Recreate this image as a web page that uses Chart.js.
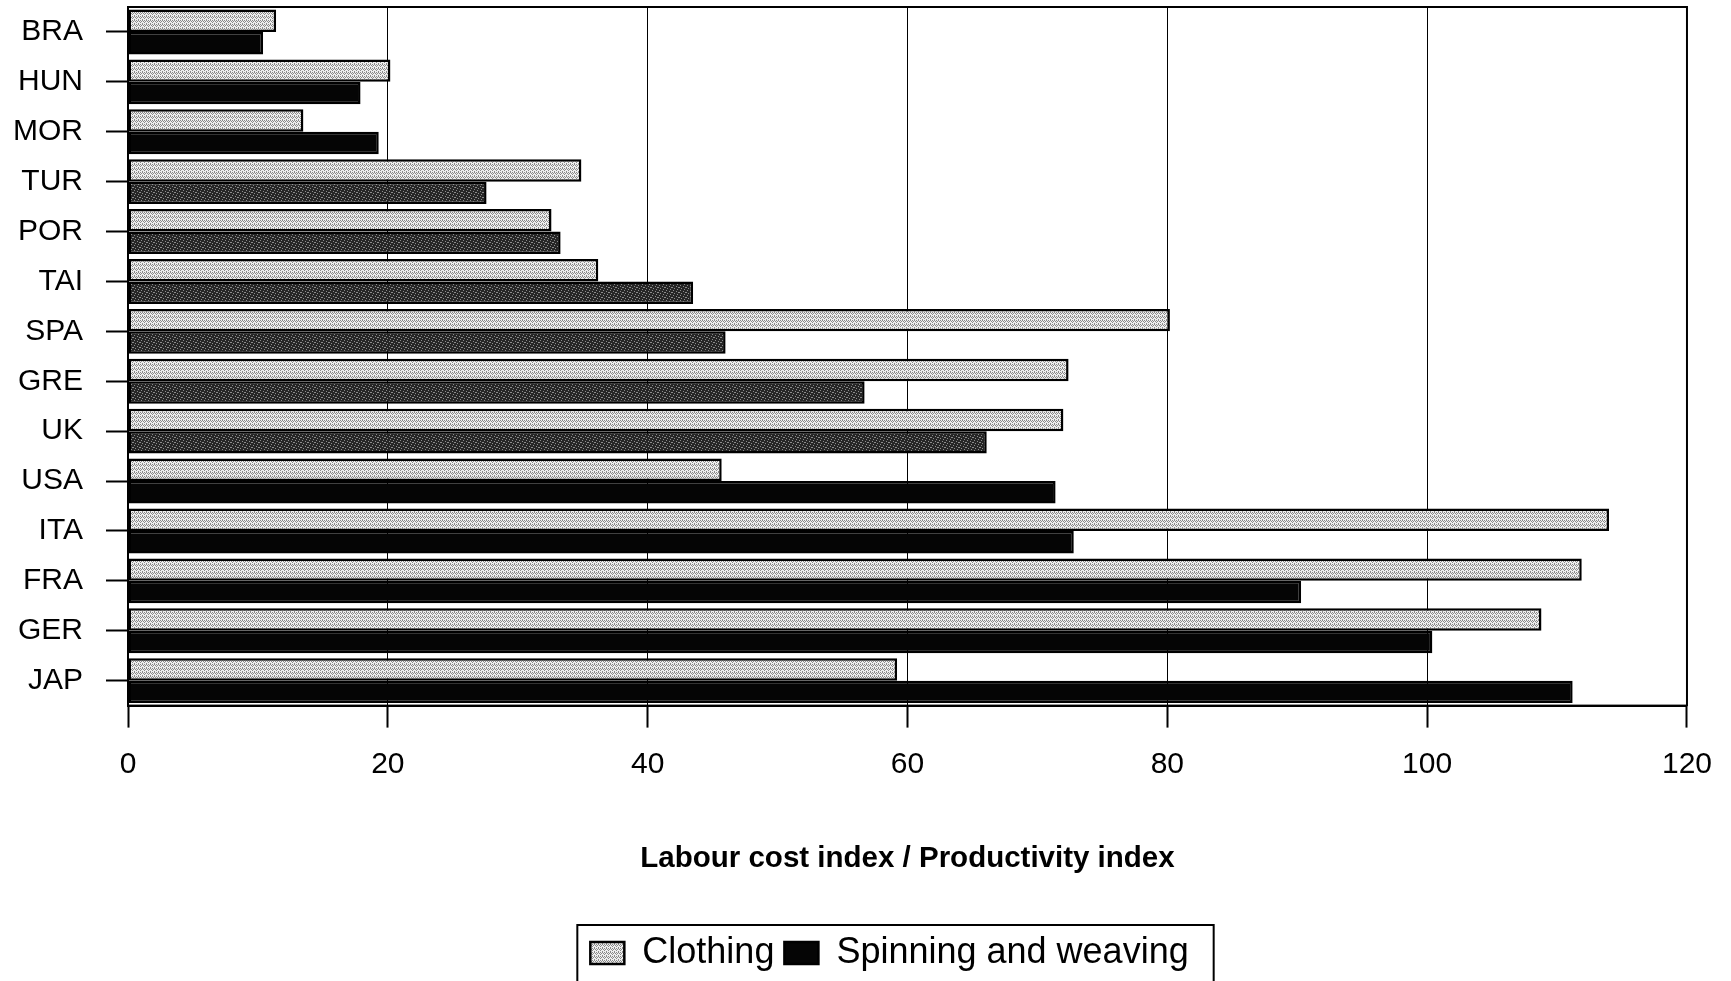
<!DOCTYPE html>
<html>
<head>
<meta charset="utf-8">
<script src="https://cdn.jsdelivr.net/npm/chart.js@4.4.1/dist/chart.umd.min.js"></script>
<style>
    body { margin: 0; background: #fff; }
    canvas { display: block; }
</style>
</head>
<body>
<canvas id="chart" width="1731" height="981"></canvas>
<script>
// Country codes, top to bottom
const countries = ['BRA', 'HUN', 'MOR', 'TUR', 'POR', 'TAI', 'SPA', 'GRE', 'UK', 'USA', 'ITA', 'FRA', 'GER', 'JAP'];

// Labour cost index / productivity index
const clothing = [11.4, 20.2, 13.5, 34.9, 32.6, 36.2, 80.2, 72.4, 72.0, 45.7, 114.0, 111.9, 108.8, 59.2];
const spinning = [10.4, 17.9, 19.3, 27.6, 33.3, 43.5, 46.0, 56.7, 66.1, 71.4, 72.8, 90.3, 100.4, 111.2];

const xTicks = [0, 20, 40, 60, 80, 100, 120];

// rows whose dark bar prints as a mottled grey in the scan
const mottledRows = ['TUR', 'POR', 'TAI', 'SPA', 'GRE', 'UK'];

const FONT = '"Liberation Sans", Arial, Helvetica, sans-serif';

// stipple fill used for the clothing bars
function makeStipple() {
    const c = document.createElement('canvas');
    c.width = 4;
    c.height = 4;
    const g = c.getContext('2d');
    g.fillStyle = '#eeeeee';
    g.fillRect(0, 0, 4, 4);
    g.fillStyle = '#8a8a8a';
    [[0, 0], [2, 0], [1, 1], [3, 1], [0, 2], [2, 3]].forEach(([x, y]) => g.fillRect(x, y, 1, 1));
    return g.createPattern(c, 'repeat');
}

// dark mottled fill for the greyer spinning bars
function makeMottle() {
    const c = document.createElement('canvas');
    c.width = 7;
    c.height = 5;
    const g = c.getContext('2d');
    g.fillStyle = '#262626';
    g.fillRect(0, 0, 7, 5);
    g.fillStyle = '#8c8c8c';
    [[1, 0], [4, 1], [6, 2], [2, 3], [5, 4], [0, 2]].forEach(([x, y]) => g.fillRect(x, y, 1, 1));
    return g.createPattern(c, 'repeat');
}

const mottle = makeMottle();
const spinColors = countries.map(c => mottledRows.includes(c) ? mottle : '#050505');

// closes the plot box on the top and right
const plotFrame = {
    id: 'plotFrame',
    afterDatasetsDraw(chart) {
        const { ctx, chartArea: a } = chart;
        ctx.save();
        ctx.strokeStyle = '#000';
        ctx.lineWidth = 2;
        ctx.strokeRect(a.left, a.top, a.right - a.left, a.bottom - a.top);
        ctx.restore();
    },
};

// the legend sits a little right of centre in the original, inside a box
const LEGEND_SHIFT = 37;
const legendFrame = {
    id: 'legendFrame',
    afterLayout(chart) {
        const lg = chart.legend;
        lg.left += LEGEND_SHIFT;
        lg.right += LEGEND_SHIFT;
        (lg.legendHitBoxes || []).forEach(b => { b.left += LEGEND_SHIFT; });
    },
    afterDraw(chart) {
        const lg = chart.legend;
        const boxes = lg.legendHitBoxes;
        if (!boxes || !boxes.length) return;
        const first = boxes[0];
        const last = boxes[boxes.length - 1];
        const ctx = chart.ctx;
        ctx.save();
        ctx.strokeStyle = '#000';
        ctx.lineWidth = 2;
        ctx.strokeRect(first.left - 13, lg.top, last.left + last.width - first.left + 38, lg.height + 20);
        ctx.restore();
    },
};

new Chart(document.getElementById('chart'), {
    type: 'bar',
    data: {
        labels: countries,
        datasets: [
            {
                label: 'Clothing',
                data: clothing,
                backgroundColor: makeStipple(),
                borderColor: '#000',
                borderWidth: 2.5,
                borderSkipped: false,
            },
            {
                label: 'Spinning and weaving',
                data: spinning,
                backgroundColor: spinColors,
                borderColor: '#000',
                borderWidth: 2.5,
                borderSkipped: false,
            },
        ],
    },
    options: {
        indexAxis: 'y',
        responsive: false,
        animation: false,
        layout: { padding: { top: 7, left: 13, right: 39, bottom: 0 } },
        datasets: {
            bar: { categoryPercentage: 0.9, barPercentage: 1.0 },
        },
        scales: {
            x: {
                type: 'linear',
                min: xTicks[0],
                max: xTicks[xTicks.length - 1],
                afterBuildTicks: (axis) => { axis.ticks = xTicks.map(v => ({ value: v })); },
                ticks: {
                    color: '#000',
                    padding: 19,
                    font: { family: FONT, size: 30 },
                },
                grid: {
                    color: '#000',
                    lineWidth: 1,
                    borderDash: [2, 3],
                    tickLength: 22,
                    tickColor: '#000',
                    tickWidth: 2,
                    tickBorderDash: [],
                },
                border: { display: true, color: '#000', width: 2 },
                title: {
                    display: true,
                    text: 'Labour cost index / Productivity index',
                    color: '#000',
                    font: { family: FONT, size: 29.5, weight: 'bold' },
                    padding: { top: 40, bottom: 48 },
                },
            },
            y: {
                ticks: {
                    color: '#000',
                    padding: 23,
                    font: { family: FONT, size: 30 },
                },
                grid: {
                    offset: false,
                    drawOnChartArea: false,
                    tickLength: 22,
                    tickColor: '#000',
                    tickWidth: 2,
                },
                border: { display: true, color: '#000', width: 2 },
                // fixed axis width; no extra space above the first row
                afterFit: (axis) => {
                    axis.width = 115;
                    axis.paddingTop = 0;
                    axis.paddingBottom = 0;
                },
            },
        },
        plugins: {
            legend: {
                position: 'bottom',
                labels: {
                    color: '#000',
                    boxWidth: 34,
                    boxHeight: 22,
                    padding: 10,
                    font: { family: FONT, size: 36 },
                },
            },
            tooltip: { enabled: false },
        },
    },
    plugins: [plotFrame, legendFrame],
});
</script>
</body>
</html>
